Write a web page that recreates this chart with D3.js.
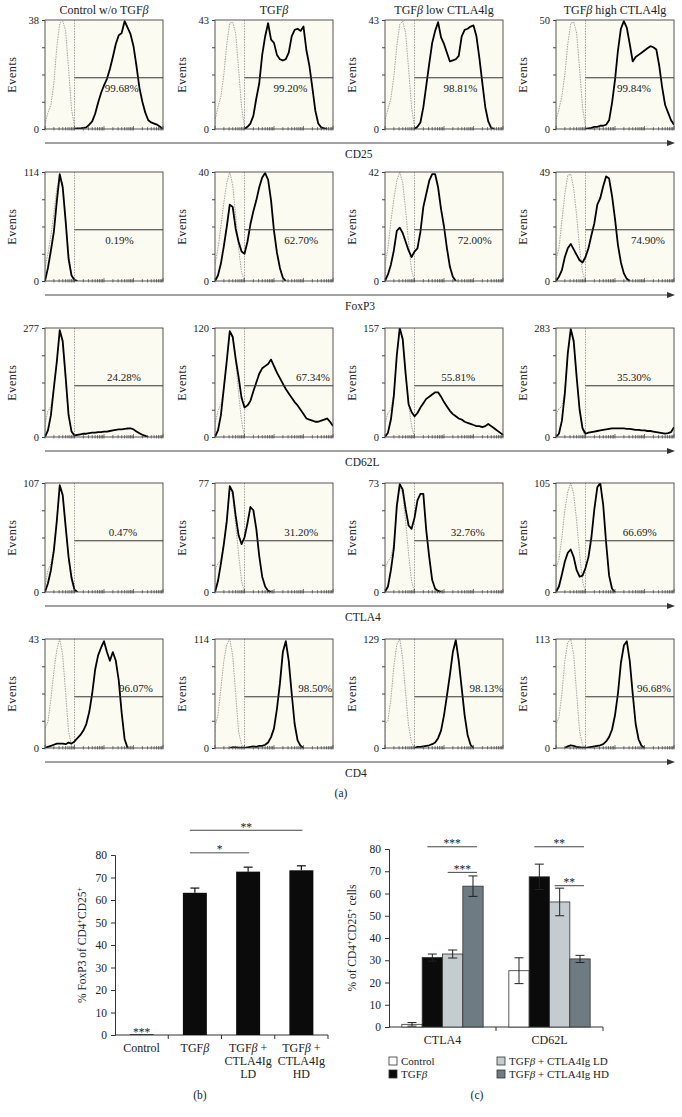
<!DOCTYPE html>
<html>
<head>
<meta charset="utf-8">
<script src="https://cdn.jsdelivr.net/npm/d3@7"></script>
<style>
body { margin: 0; background: #fff; }
svg text { font-family: "Liberation Serif", "Times New Roman", serif; fill: #222; }
</style>
</head>
<body>
<svg id="fig" width="682" height="1117"></svg>
<script>
// ---------------- data: flow histograms (a) ----------------
var conditions = ["Control w/o TGFβ", "TGFβ", "TGFβ low CTLA4lg", "TGFβ high CTLA4lg"];
var markers = ["CD25", "FoxP3", "CD62L", "CTLA4", "CD4"];

var peakCounts = [
    [38, 43, 43, 50],
    [114, 40, 42, 49],
    [277, 120, 157, 283],
    [107, 77, 73, 105],
    [43, 114, 129, 113]
];

var gatePercents = [
    ["99.68%", "99.20%", "98.81%", "99.84%"],
    ["0.19%", "62.70%", "72.00%", "74.90%"],
    ["24.28%", "67.34%", "55.81%", "35.30%"],
    ["0.47%", "31.20%", "32.76%", "66.69%"],
    ["96.07%", "98.50%", "98.13%", "96.68%"]
];

// events as % of panel peak, one bin per 0.1 log10 decade starting at 10^0
var cd25Stained = [
    [0,0,0,0,0,0,0,0,0,0, 0,0.5,0.5,1,1.5,4,7,14,24,33, 40,46,55,66,78,86,88,99,93,87, 76,58,38,25,15,8,6,5,4,2, 0],
    [0,0,0,0,0,0,0,0,0,0, 0,2,5,12,28,42,68,85,97,82, 79,68,64,63,64,70,85,91,92,90, 94,72,58,38,17,5,1.5,0.5,0],
    [0,0,0,0,0,0,0,0,0,0, 0,2,6,20,40,60,79,90,98,84, 78,70,62,63,64,67,85,91,92,94, 95,85,65,42,20,7,1,0],
    [0,0,0,0,0,0,0,0,0,0, 0,0.5,1,2,2,3,3,4,8,24, 45,72,92,99,93,78,62,66,68,70, 72,74,76,75,73,58,38,22,15,8, 4]
];
var cd25Isotype = [
    [5,15,22,42,75,97,99,90,55,18,2],
    [8,20,30,50,78,97,98,88,55,20,2],
    [8,18,28,48,76,96,99,88,55,20,2],
    [8,18,30,50,78,97,98,88,55,20,2]
];

var foxp3Stained = [
    [0,12,28,45,73,98,86,55,20,5,1],
    [0,5,16,32,50,70,68,48,36,27, 25,36,52,64,74,86,95,99,93,74, 46,26,12,3,0],
    [0,6,15,28,46,49,44,36,28,22, 27,30,45,68,80,92,98,98,86,66, 50,30,13,4,0],
    [0,4,10,22,30,34,29,24,19,17, 22,30,42,53,70,76,87,96,94,78, 57,33,17,7,2,0]
];
var foxp3Isotype = [
    [12,25,42,62,85,95,90,55,25,5,0],
    [15,30,50,72,90,100,88,60,30,8,0],
    [15,30,55,75,92,100,90,65,35,10,0],
    [20,30,55,80,97,98,85,60,30,8,0]
];

var cd62lStained = [
    [0,6,20,45,69,98,88,55,20,5, 1.5,2,2.5,3,3,3.5,4,4,4.5,4.5, 5,5,5.5,6,6.5,7,7,7.5,7.8,8, 7,5,3.5,2,1,0],
    [0,6,20,45,70,97,92,72,55,36, 27,29,33,42,50,58,63,65,67,71, 65,59,54,49,44,40,36,32,29,25, 21,17,16,15,14,14,15,16,17,14, 10],
    [0,4,16,38,75,100,90,58,30,23, 19,22,27,31,35,37,39,41,41,37, 32,28,24,21,19,17,16,14,13,12, 11,10,10,9,10,12,10,8,6,4, 2],
    [0,3,15,40,77,99,88,55,25,8, 3,4,4.5,5,5.5,6,6.5,7,7.5,8, 8,8,8,8,7.5,7.5,7,6.5,6.5,6, 6,5.5,5.5,5,4.5,4,3.5,3,3.5,4.5, 9]
];
var cd62lIsotype = [
    [12,24,28,45,68,95,86,50,18,4,0],
    [12,24,30,45,70,96,90,70,40,15,0],
    [12,22,25,40,75,98,88,55,30,10,0],
    [20,26,28,42,76,98,86,55,25,6,0]
];

var ctla4Stained = [
    [0,8,20,38,65,98,89,60,32,13,2,0],
    [0,10,26,44,65,97,92,70,52,44, 50,63,78,75,58,33,14,5,1,0],
    [0,5,20,40,79,99,94,76,61,58, 68,84,90,90,56,32,11,3,1,0],
    [0,5,16,28,36,39,32,20,14,15, 22,32,50,76,96,100,80,45,15,3,0]
];
var ctla4Isotype = [
    [5,20,26,40,66,96,88,60,30,10,0],
    [20,26,30,45,68,96,88,62,35,10,0],
    [22,28,32,45,75,96,90,65,35,10,0],
    [22,30,50,75,92,100,90,65,35,10,0]
];

var cd4Stained = [
    [0,1,2,3,4,4,4,3.5,5,4, 6,9,12,16,22,33,50,72,85,92, 98,88,80,88,80,62,32,8,0],
    [0,0,0,0,0,0,0.5,0.5,0,0, 0,0.5,1,1.5,1,2,2,3,5,10, 18,36,59,88,98,80,50,22,7,2,0],
    [0,0,0,0,0,0,0,0,0,0, 0,1,1,1.5,2,2.5,3.5,5,9,16, 30,48,67,88,99,80,55,30,12,3,0],
    [0,0,0,0,1.5,2.5,2,1,0.5,0, 0,0.5,1,1.5,2,2.5,3.5,6,10,17, 30,50,78,94,98,80,50,22,8,2,0]
];
var cd4Isotype = [
    [18,24,45,70,90,100,85,50,15,2,0],
    [20,30,55,80,95,100,85,50,15,3,0],
    [22,25,45,75,95,100,82,50,20,5,0],
    [22,28,50,80,97,100,85,50,15,3,0]
];

var stainedByMarker = [cd25Stained, foxp3Stained, cd62lStained, ctla4Stained, cd4Stained];
var isotypeByMarker = [cd25Isotype, foxp3Isotype, cd62lIsotype, ctla4Isotype, cd4Isotype];

// ---------------- data: FoxP3 bars (b) ----------------
var foxGroups = ["Control", "TGFβ", "TGFβ + CTLA4Ig LD", "TGFβ + CTLA4Ig HD"];
var foxTickLines = [["Control"], ["TGFβ"], ["TGFβ +", "CTLA4Ig", "LD"], ["TGFβ +", "CTLA4Ig", "HD"]];
var foxMean = [0.3, 63.2, 72.6, 73.2];
var foxErr = [0, 2.1, 2.0, 2.0];
var foxSig = [[1, 2, "*", 81], [1, 3, "**", 91]];
var foxControlMark = "***";

// ---------------- data: CTLA4 / CD62L bars (c) ----------------
var surfaceMarkers = ["CTLA4", "CD62L"];
var treatments = ["Control", "TGFβ", "TGFβ + CTLA4Ig LD", "TGFβ + CTLA4Ig HD"];
var ctla4Mean = [1.2, 31.2, 32.8, 63.3];
var ctla4Err = [0.8, 1.6, 1.8, 4.6];
var cd62lMean = [25.3, 67.5, 56.2, 30.6];
var cd62lErr = [5.8, 5.7, 6.2, 1.6];
var surfaceSig = [[0, 1, 3, "***", 81], [0, 2, 3, "***", 69.5], [1, 1, 3, "**", 81], [1, 2, 3, "**", 63.5]];

// ---------------- layout ----------------
var colLeft = [45, 215, 385, 556];
var rowTop = [20, 172, 328, 483, 639];
var plotW = 118, plotH = 109;
var binStep = 0.1;
var gateLevel = 47;
var gateAt = 10;
var labelFx = [
    [0.65, 0.64, 0.64, 0.66],
    [0.63, 0.73, 0.76, 0.78],
    [0.67, 0.83, 0.62, 0.66],
    [0.66, 0.73, 0.70, 0.71],
    [0.77, 0.85, 0.86, 0.83]
];
var treatmentFill = ["#ffffff", "#0b0b0b", "#c4ccd0", "#6e7b82"];

var svg = d3.select("#fig");
var defs = svg.append("defs");

defs.append("marker")
    .attr("id", "arrowhead")
    .attr("viewBox", "0 0 8 6")
    .attr("refX", 1).attr("refY", 3)
    .attr("markerWidth", 8).attr("markerHeight", 6)
    .attr("markerUnits", "userSpaceOnUse")
    .attr("orient", "auto")
    .append("path").attr("d", "M0,0L8,3L0,6Z").attr("fill", "#333");

function addLabel(sel, label) {
    var parts = label.split("β");
    parts.forEach(function (part, k) {
        sel.append("tspan").text(part);
        if (k < parts.length - 1) sel.append("tspan").style("font-style", "italic").text("β");
    });
    return sel;
}

// ---------------------------------------------------------------------
// (a) histograms

var fluor = d3.scaleLog().domain([1, 10000]).range([0, plotW]);
var pct = d3.scaleLinear().domain([0, 100]).range([plotH, 0]);

var histLine = d3.line()
    .x(function (d) { return fluor(Math.pow(10, d.i * binStep)); })
    .y(function (d) { return pct(d.v); });

function histPoints(values) {
    var nz = [];
    values.forEach(function (v, i) { if (v > 0) nz.push(i); });
    var first = Math.max(nz[0] - 1, 0);
    var last = Math.min(nz[nz.length - 1] + 1, 40);
    var pts = [];
    for (var i = first; i <= last; i++) pts.push({ i: i, v: i < values.length ? values[i] : 0 });
    if (pts[0].v > 0) pts.unshift({ i: pts[0].i, v: 0 });
    return pts;
}

markers.forEach(function (marker, r) {
    conditions.forEach(function (cond, c) {
        var g = svg.append("g")
            .attr("transform", "translate(" + colLeft[c] + "," + rowTop[r] + ")");

        var clipId = "clip" + r + "_" + c;
        defs.append("clipPath").attr("id", clipId)
            .append("rect").attr("width", plotW).attr("height", plotH);

        g.append("rect")
            .attr("width", plotW).attr("height", plotH)
            .attr("fill", "#fbfbf1");

        var inner = g.append("g").attr("clip-path", "url(#" + clipId + ")");

        inner.append("path")
            .attr("d", histLine(histPoints(isotypeByMarker[r][c])))
            .attr("fill", "none")
            .attr("stroke", "#9a9a9a")
            .attr("stroke-width", 0.9)
            .attr("stroke-dasharray", "1.5,1");

        inner.append("line")
            .attr("x1", fluor(gateAt)).attr("x2", fluor(gateAt))
            .attr("y1", 0).attr("y2", plotH)
            .attr("stroke", "#8a8a8a")
            .attr("stroke-width", 0.8)
            .attr("stroke-dasharray", "1.5,1.2");

        inner.append("path")
            .attr("d", histLine(histPoints(stainedByMarker[r][c])))
            .attr("fill", "none")
            .attr("stroke", "#000")
            .attr("stroke-width", 1.8)
            .attr("stroke-linejoin", "round");

        g.append("line")
            .attr("x1", fluor(gateAt)).attr("x2", plotW)
            .attr("y1", pct(gateLevel)).attr("y2", pct(gateLevel))
            .attr("stroke", "#333")
            .attr("stroke-width", 1);

        g.append("text")
            .attr("x", labelFx[r][c] * plotW)
            .attr("y", pct(gateLevel) + (r < 2 ? 14 : -5))
            .attr("text-anchor", "middle")
            .attr("font-size", 11)
            .text(gatePercents[r][c]);

        // y axis
        var yAxis = d3.axisLeft(pct)
            .tickValues([0, 25, 50, 75, 100])
            .tickSize(3)
            .tickPadding(3)
            .tickFormat(function (d) { return d === 100 ? peakCounts[r][c] : (d === 0 ? "0" : ""); });
        var ya = g.append("g").call(yAxis);
        ya.select(".domain").remove();
        ya.selectAll("line").attr("stroke", "#444");
        ya.selectAll("text")
            .attr("font-family", "Liberation Serif, serif")
            .attr("font-size", 10.5)
            .attr("fill", "#222");

        // log x ticks
        g.selectAll(".xt")
            .data(fluor.ticks())
            .enter().append("line")
            .attr("x1", function (d) { return fluor(d); })
            .attr("x2", function (d) { return fluor(d); })
            .attr("y1", function (d) { return Math.log10(d) % 1 === 0 ? plotH - 3 : plotH - 2; })
            .attr("y2", plotH + 1.5)
            .attr("stroke", "#444")
            .attr("stroke-width", 0.7);

        g.append("rect")
            .attr("width", plotW).attr("height", plotH)
            .attr("fill", "none")
            .attr("stroke", "#444")
            .attr("stroke-width", 0.9);

        g.append("text")
            .attr("transform", "translate(-29," + (plotH / 2) + ") rotate(-90)")
            .attr("text-anchor", "middle")
            .attr("font-size", 12)
            .attr("letter-spacing", 0.6)
            .text("Events");

        if (r === 0) {
            addLabel(g.append("text")
                .attr("x", plotW / 2)
                .attr("y", -6)
                .attr("text-anchor", "middle")
                .attr("font-size", 12), cond);
        }
    });

    var ay = rowTop[r] + plotH + 14;
    svg.append("line")
        .attr("x1", colLeft[0]).attr("x2", 668)
        .attr("y1", ay).attr("y2", ay)
        .attr("stroke", "#444")
        .attr("stroke-width", 1)
        .attr("marker-end", "url(#arrowhead)");
    svg.append("text")
        .attr("x", 345).attr("y", ay + 15)
        .attr("font-size", 11.5)
        .text(marker);
});

svg.append("text")
    .attr("x", 341).attr("y", 797)
    .attr("text-anchor", "middle")
    .attr("font-size", 11.5)
    .text("(a)");

// ---------------------------------------------------------------------
// (b) FoxP3 bars

var bX = d3.scaleBand().domain(foxGroups).range([115, 328]).paddingInner(0.55).paddingOuter(0.275);
var bY = d3.scaleLinear().domain([0, 80]).range([1035, 855]);
var bEdge = function (d) { return bX(d) - (bX.step() - bX.bandwidth()) / 2; };

var bAxis = svg.append("g")
    .attr("transform", "translate(115,0)")
    .call(d3.axisLeft(bY).tickValues(d3.range(0, 81, 10)).tickSize(4).tickPadding(4));
bAxis.selectAll("line, path").attr("stroke", "#333");
bAxis.selectAll("text").attr("font-family", "Liberation Serif, serif").attr("font-size", 11.5).attr("fill", "#222");

svg.append("line")
    .attr("x1", bX.range()[0]).attr("x2", bX.range()[1])
    .attr("y1", bY(0)).attr("y2", bY(0))
    .attr("stroke", "#333");
svg.selectAll(".bt")
    .data(foxGroups.slice(1).map(bEdge).concat([bX.range()[1]]))
    .enter().append("line")
    .attr("x1", function (d) { return d; }).attr("x2", function (d) { return d; })
    .attr("y1", bY(0)).attr("y2", bY(0) + 4)
    .attr("stroke", "#333");

svg.selectAll(".fbar")
    .data(foxGroups)
    .enter().append("rect")
    .attr("x", function (d) { return bX(d); })
    .attr("width", bX.bandwidth())
    .attr("y", function (d, i) { return bY(foxMean[i]); })
    .attr("height", function (d, i) { return bY(0) - bY(foxMean[i]); })
    .attr("fill", "#0b0b0b");

foxGroups.forEach(function (d, i) {
    if (!foxErr[i]) return;
    var cx = bX(d) + bX.bandwidth() / 2;
    svg.append("line")
        .attr("x1", cx).attr("x2", cx)
        .attr("y1", bY(foxMean[i])).attr("y2", bY(foxMean[i] + foxErr[i]))
        .attr("stroke", "#111").attr("stroke-width", 1.2);
    svg.append("line")
        .attr("x1", cx - 4.5).attr("x2", cx + 4.5)
        .attr("y1", bY(foxMean[i] + foxErr[i])).attr("y2", bY(foxMean[i] + foxErr[i]))
        .attr("stroke", "#111").attr("stroke-width", 1.2);
});

svg.append("text")
    .attr("x", bX(foxGroups[0]) + bX.bandwidth() / 2)
    .attr("y", bY(0) + 0.5)
    .attr("text-anchor", "middle")
    .attr("font-size", 11.5)
    .attr("fill", "#444")
    .text(foxControlMark);

foxSig.forEach(function (s) {
    var x1 = bX(foxGroups[s[0]]) + bX.bandwidth() / 2 - 5;
    var x2 = bX(foxGroups[s[1]]) + bX.bandwidth() / 2 + 1;
    svg.append("line")
        .attr("x1", x1).attr("x2", x2)
        .attr("y1", bY(s[3])).attr("y2", bY(s[3]))
        .attr("stroke", s[2] === "*" ? "#8a8a8a" : "#444")
        .attr("stroke-width", s[2] === "*" ? 1.5 : 1);
    svg.append("text")
        .attr("x", (x1 + x2) / 2).attr("y", bY(s[3]) + 0.5)
        .attr("text-anchor", "middle")
        .attr("font-size", 11.5)
        .attr("fill", "#444")
        .text(s[2]);
});

foxGroups.forEach(function (d, i) {
    foxTickLines[i].forEach(function (line, k) {
        addLabel(svg.append("text")
            .attr("x", bX(d) + bX.bandwidth() / 2)
            .attr("y", bY(0) + 17 + k * 13)
            .attr("text-anchor", "middle")
            .attr("font-size", 12), line);
    });
});

var bLab = svg.append("text")
    .attr("transform", "translate(86," + ((bY(0) + bY(80)) / 2) + ") rotate(-90)")
    .attr("text-anchor", "middle")
    .attr("font-size", 11.5);
bLab.append("tspan").text("% FoxP3 of CD4");
bLab.append("tspan").attr("baseline-shift", "super").attr("font-size", 8).text("+");
bLab.append("tspan").text("CD25");
bLab.append("tspan").attr("baseline-shift", "super").attr("font-size", 8).text("+");

svg.append("text")
    .attr("x", 200).attr("y", 1099)
    .attr("text-anchor", "middle")
    .attr("font-size", 11.5)
    .text("(b)");

// ---------------------------------------------------------------------
// (c) CTLA4 / CD62L bars

var cX = d3.scaleBand().domain(surfaceMarkers).range([389, 603]).paddingInner(0.24).paddingOuter(0.12);
var cSub = d3.scaleBand().domain(treatments).range([0, cX.bandwidth()]);
var cY = d3.scaleLinear().domain([0, 80]).range([1027, 849]);
var surfaceMean = [ctla4Mean, cd62lMean];
var surfaceErr = [ctla4Err, cd62lErr];

var cAxis = svg.append("g")
    .attr("transform", "translate(389,0)")
    .call(d3.axisLeft(cY).tickValues(d3.range(0, 81, 10)).tickSize(4).tickPadding(4));
cAxis.selectAll("line, path").attr("stroke", "#333");
cAxis.selectAll("text").attr("font-family", "Liberation Serif, serif").attr("font-size", 11.5).attr("fill", "#222");

svg.append("line")
    .attr("x1", cX.range()[0]).attr("x2", cX.range()[1])
    .attr("y1", cY(0)).attr("y2", cY(0))
    .attr("stroke", "#333");
var cEdge = function (d) { return cX(d) - cX.step() * cX.paddingInner() / 2; };
svg.selectAll(".ct")
    .data(surfaceMarkers.slice(1).map(cEdge).concat([cX.range()[1]]))
    .enter().append("line")
    .attr("x1", function (d) { return d; }).attr("x2", function (d) { return d; })
    .attr("y1", cY(0)).attr("y2", cY(0) + 4)
    .attr("stroke", "#333");

surfaceMarkers.forEach(function (m, gi) {
    var grp = svg.append("g").attr("transform", "translate(" + cX(m) + ",0)");
    grp.selectAll("rect")
        .data(treatments)
        .enter().append("rect")
        .attr("x", function (t) { return cSub(t); })
        .attr("width", cSub.bandwidth())
        .attr("y", function (t, i) { return cY(surfaceMean[gi][i]); })
        .attr("height", function (t, i) { return cY(0) - cY(surfaceMean[gi][i]); })
        .attr("fill", function (t, i) { return treatmentFill[i]; })
        .attr("stroke", "#333")
        .attr("stroke-width", 0.8);

    treatments.forEach(function (t, i) {
        var cx = cSub(t) + cSub.bandwidth() / 2;
        var hi = cY(surfaceMean[gi][i] + surfaceErr[gi][i]);
        var lo = cY(surfaceMean[gi][i] - surfaceErr[gi][i]);
        grp.append("line").attr("x1", cx).attr("x2", cx).attr("y1", hi).attr("y2", lo)
            .attr("stroke", "#222").attr("stroke-width", 1);
        [hi, lo].forEach(function (yy) {
            grp.append("line").attr("x1", cx - 4.5).attr("x2", cx + 4.5).attr("y1", yy).attr("y2", yy)
                .attr("stroke", "#222").attr("stroke-width", 1);
        });
    });

    svg.append("text")
        .attr("x", cX(m) + cX.bandwidth() / 2)
        .attr("y", cY(0) + 17)
        .attr("text-anchor", "middle")
        .attr("font-size", 12)
        .text(m);
});

surfaceSig.forEach(function (s) {
    var base = cX(surfaceMarkers[s[0]]);
    var x1 = base + cSub(treatments[s[1]]) + cSub.bandwidth() / 2 - 5;
    var x2 = base + cSub(treatments[s[2]]) + cSub.bandwidth() / 2 + 4;
    svg.append("line")
        .attr("x1", x1).attr("x2", x2)
        .attr("y1", cY(s[4])).attr("y2", cY(s[4]))
        .attr("stroke", "#444").attr("stroke-width", 1);
    svg.append("text")
        .attr("x", (x1 + x2) / 2).attr("y", cY(s[4]) + 0.5)
        .attr("text-anchor", "middle")
        .attr("font-size", 11.5)
        .attr("fill", "#444")
        .text(s[3]);
});

var cLab = svg.append("text")
    .attr("transform", "translate(356," + ((cY(0) + cY(80)) / 2) + ") rotate(-90)")
    .attr("text-anchor", "middle")
    .attr("font-size", 11.5);
cLab.append("tspan").text("% of CD4");
cLab.append("tspan").attr("baseline-shift", "super").attr("font-size", 8).text("+");
cLab.append("tspan").text("CD25");
cLab.append("tspan").attr("baseline-shift", "super").attr("font-size", 8).text("+");
cLab.append("tspan").text(" cells");

// legend
var legendPos = [[389, 1057], [389, 1070], [497, 1057], [497, 1070]];
treatments.forEach(function (t, i) {
    svg.append("rect")
        .attr("x", legendPos[i][0]).attr("y", legendPos[i][1])
        .attr("width", 8).attr("height", 8)
        .attr("fill", treatmentFill[i])
        .attr("stroke", "#333").attr("stroke-width", 0.8);
    addLabel(svg.append("text")
        .attr("x", legendPos[i][0] + 12).attr("y", legendPos[i][1] + 7.5)
        .attr("font-size", 11), t);
});

svg.append("text")
    .attr("x", 477).attr("y", 1099)
    .attr("text-anchor", "middle")
    .attr("font-size", 11.5)
    .text("(c)");
</script>
</body>
</html>
